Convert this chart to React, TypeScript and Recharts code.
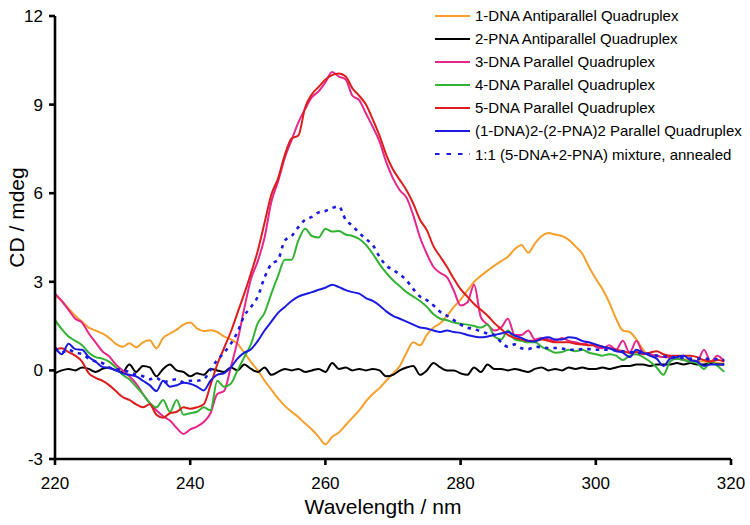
import React from 'react';
import { LineChart, Line, XAxis, YAxis, Label } from 'recharts';

// Wavelength categories 220..319 nm (1 nm steps)
const wavelength: number[] = Array.from({ length: 100 }, (_, i) => 220 + i);

const dna1Antiparallel = [
  2.55, 2.35, 2.1, 1.85, 1.65, 1.45, 1.35, 1.25, 1.1, 0.9,
  0.8, 0.92, 0.78, 0.95, 1.02, 0.75, 1.1, 1.25, 1.38, 1.55,
  1.62, 1.42, 1.33, 1.36, 1.3, 1.15, 1.05, 0.9, 0.6, 0.28,
  0.0, -0.35, -0.65, -0.95, -1.2, -1.4, -1.58, -1.8, -2.0, -2.25,
  -2.5, -2.25, -2.1, -1.85, -1.6, -1.35, -1.05, -0.8, -0.6, -0.35,
  -0.1, 0.15, 0.6, 0.95, 0.85, 1.2, 1.45, 1.6, 1.85, 2.15,
  2.4, 2.7, 3.0, 3.2, 3.38, 3.55, 3.7, 3.85, 4.1, 4.25,
  3.98, 4.3, 4.55, 4.65, 4.6, 4.55, 4.42, 4.2, 3.95, 3.5,
  3.1, 2.75, 2.3, 1.75, 1.35, 1.3, 1.05, 0.7, 0.5, 0.48,
  0.45, 0.42, 0.4, 0.38, 0.35, 0.32, 0.3, 0.28, 0.25, 0.22,
];

const pna2Antiparallel = [
  -0.1, 0.0, 0.05, 0.0, 0.1, 0.05, -0.05, 0.05, 0.1, 0.0,
  -0.05, 0.2, -0.05, 0.15, 0.1, -0.2, 0.05, 0.2, 0.0, -0.05,
  -0.2, -0.1, -0.15, 0.05, 0.0, -0.05, 0.1, 0.0, 0.2, 0.05,
  -0.05, 0.1, -0.15, -0.05, 0.05, 0.0, 0.05, -0.05, 0.0, 0.05,
  -0.05, 0.25, 0.05, 0.1, 0.0, 0.05, 0.0, 0.05, 0.0, -0.2,
  -0.15, 0.0, 0.1, 0.15, -0.15, 0.0, 0.25, 0.1, 0.0, 0.0,
  -0.1, -0.15, 0.1, -0.05, 0.2, 0.05, 0.05, 0.0, 0.05, 0.0,
  -0.05, 0.05, 0.1, 0.0, 0.05, 0.0, 0.1, 0.05, 0.1, 0.05,
  0.05, 0.1, 0.05, 0.1, 0.15, 0.15, 0.2, 0.2, 0.15, 0.2,
  0.2, 0.2, 0.25, 0.2, 0.25, 0.2, 0.2, 0.25, 0.2, 0.2,
];

const dna3Parallel = [
  2.6, 2.35, 2.05, 1.75, 1.62, 1.25, 0.95, 0.65, 0.48, 0.2,
  0.0, -0.2, -0.45, -0.8, -1.1, -1.35, -1.55, -1.7, -1.95, -2.15,
  -2.0, -1.9, -1.75, -1.45, -0.8, -0.7, 0.1, 1.0, 2.1, 3.1,
  3.7, 4.5, 5.7, 6.4, 7.2, 7.8, 8.4, 8.85, 9.25, 9.45,
  9.75, 10.1, 9.95, 9.85, 9.3, 9.15, 8.7, 8.25, 7.75, 7.05,
  6.5, 6.1, 5.85, 5.25, 4.5, 3.95, 3.5, 3.3, 3.15, 2.7,
  2.2, 2.3, 2.9, 1.8, 1.55, 1.35, 1.45, 1.75, 1.2, 1.2,
  1.35, 1.05, 1.1, 1.05, 1.0, 1.1, 1.0, 0.95, 0.9, 0.95,
  0.8, 0.75, 0.85, 0.7, 1.0, 0.6, 1.0, 0.6, 0.55, 0.5,
  0.45, 0.45, 0.4, 0.35, 0.3, 0.3, 0.7, 0.3, 0.5, 0.3,
];

const dna4Parallel = [
  1.7, 1.4, 1.15, 1.0, 0.85, 0.6, 0.45, 0.4, 0.3, 0.1,
  -0.15, -0.3, -0.55, -0.8, -1.1, -1.25, -1.0, -1.4, -1.0, -1.5,
  -1.45, -1.4, -1.25, -1.35, -0.35, -0.55, -0.45, 0.0, 0.45, 0.9,
  1.6, 1.95, 2.6, 3.2, 3.75, 3.75, 4.4, 4.8, 4.55, 4.5,
  4.8, 4.7, 4.72, 4.6, 4.55, 4.45, 4.25, 3.95, 3.6, 3.3,
  3.05, 2.85, 2.65, 2.5, 2.35, 2.15, 1.9, 1.75, 1.7, 1.62,
  1.58, 1.55, 1.5, 1.45, 1.55, 1.15, 1.05, 1.35, 1.05, 1.0,
  0.95, 0.95, 0.8, 0.7, 0.6, 0.62, 0.7, 0.65, 0.7, 0.6,
  0.55, 0.5, 0.55, 0.5, 0.35, 0.5, 0.55, 0.45, 0.3, 0.1,
  -0.15, 0.3, 0.4, 0.35, 0.3, 0.25, 0.05, 0.3, 0.15, -0.05,
];

const dna5Parallel = [
  0.7, 0.75, 0.62, 0.5, 0.3, -0.1, -0.25, -0.35, -0.5, -0.7,
  -0.9, -1.0, -1.15, -1.25, -1.15, -1.5, -1.6, -1.45, -1.4, -1.25,
  -1.3, -1.25, -1.15, -0.5, 0.2, 0.75, 1.3, 1.95, 2.6, 3.3,
  4.05, 5.0, 5.95, 6.5, 7.3, 7.85, 7.95, 8.9, 9.35, 9.6,
  9.85, 10.0, 10.05, 9.95, 9.55, 9.3, 9.0, 8.5, 7.95, 7.3,
  6.8, 6.45, 6.1, 5.65, 5.1, 4.75, 4.2, 3.85, 3.5, 3.1,
  2.75, 2.5, 2.25, 2.05, 1.85, 1.6, 1.4, 1.2, 1.1, 1.05,
  1.0, 1.0, 1.05, 1.0, 0.95, 0.95, 0.95, 0.9, 0.88, 0.85,
  0.85, 0.8, 0.75, 0.7, 0.65, 0.6, 0.62, 0.55, 0.6, 0.65,
  0.55, 0.5, 0.5, 0.5, 0.5, 0.45, 0.35, 0.3, 0.35, 0.3,
];

const dnaPnaParallel = [
  0.8, 0.55, 0.9, 0.72, 0.7, 0.45, 0.3, 0.12, 0.08, 0.0,
  -0.1, -0.15, -0.2, -0.35, -0.5, -0.7, -0.35, -0.55, -0.5, -0.42,
  -0.45, -0.55, -0.68, -0.35, -0.15, -0.1, 0.1, 0.4, 0.6, 0.72,
  1.0, 1.35, 1.65, 1.95, 2.15, 2.35, 2.5, 2.58, 2.65, 2.73,
  2.8, 2.9, 2.82, 2.72, 2.65, 2.6, 2.45, 2.35, 2.2, 2.0,
  1.85, 1.75, 1.65, 1.55, 1.45, 1.42, 1.35, 1.3, 1.35, 1.3,
  1.27, 1.2, 1.15, 1.12, 1.15, 1.2, 1.25, 1.3, 1.18, 1.1,
  1.0, 0.98, 1.08, 1.12, 1.05, 1.05, 1.12, 1.1, 1.0, 0.95,
  0.88, 0.8, 0.75, 0.65, 0.6, 0.45, 0.7, 0.6, 0.5, 0.4,
  0.15, 0.4, 0.45, 0.5, 0.35, 0.3, 0.15, 0.2, 0.2, 0.2,
];

const mixtureAnnealed = [
  0.75, 0.6, 0.7, 0.6, 0.55, 0.4, 0.3, 0.25, 0.1, 0.05,
  0.0, -0.05, -0.15, -0.2, -0.3, -0.25, -0.4, -0.35, -0.3, -0.4,
  -0.35, -0.35, -0.3, 0.02, 0.35, 0.6, 0.9, 1.3, 1.85, 2.15,
  2.5, 3.15, 3.6, 3.75, 4.4, 4.55, 4.85, 5.1, 5.2, 5.35,
  5.4, 5.5, 5.55, 5.1, 4.9, 4.65, 4.45, 4.25, 3.85, 3.55,
  3.4, 3.25, 3.05, 2.75, 2.5, 2.38, 2.2, 1.98, 1.85, 1.7,
  1.55, 1.45, 1.4, 1.32, 1.25, 1.2, 0.95, 0.8, 0.88, 0.75,
  0.72, 0.8, 0.78, 0.76, 0.76, 0.74, 0.7, 0.7, 0.72, 0.72,
  0.7, 0.7, 0.7, 0.68, 0.65, 0.62, 0.6, 0.58, 0.55, 0.5,
  0.48, 0.45, 0.45, 0.42, 0.4, 0.4, 0.4, 0.38, 0.38, 0.35,
];

const xTicks = [220, 240, 260, 280, 300, 320];
const yTicks = [-3, 0, 3, 6, 9, 12];

const seriesNames = [
  '1-DNA Antiparallel Quadruplex',
  '2-PNA Antiparallel Quadruplex',
  '3-DNA Parallel Quadruplex',
  '4-DNA Parallel Quadruplex',
  '5-DNA Parallel Quadruplex',
  '(1-DNA)2-(2-PNA)2 Parallel Quadruplex',
  '1:1 (5-DNA+2-PNA) mixture, annealed',
];

const series = [
  { key: 's1', name: seriesNames[0], color: '#F5A02C', values: dna1Antiparallel, dash: '' },
  { key: 's2', name: seriesNames[1], color: '#000000', values: pna2Antiparallel, dash: '' },
  { key: 's3', name: seriesNames[2], color: '#E5268A', values: dna3Parallel, dash: '' },
  { key: 's4', name: seriesNames[3], color: '#33B233', values: dna4Parallel, dash: '' },
  { key: 's5', name: seriesNames[4], color: '#DD1C1C', values: dna5Parallel, dash: '' },
  { key: 's6', name: seriesNames[5], color: '#1A1AE0', values: dnaPnaParallel, dash: '' },
  { key: 's7', name: seriesNames[6], color: '#1A1AE0', values: mixtureAnnealed, dash: '3.5 5' },
];

const data = wavelength.map((w, i) => {
  const row: Record<string, number> = { wl: w };
  series.forEach((s) => {
    row[s.key] = s.values[i];
  });
  return row;
});

const FONT = '"Liberation Sans", Arial, Helvetica, sans-serif';

const YTitle = (props: any) => {
  const vb = props.viewBox || {};
  const cx = 16;
  const cy = (vb.y || 0) + (vb.height || 0) / 2 - 20;
  return (
    <text
      x={cx}
      y={cy}
      transform={`rotate(-90 ${cx} ${cy})`}
      textAnchor="middle"
      dominantBaseline="central"
      fontSize={21}
      fontFamily={FONT}
      fill="#000"
    >
      CD / mdeg
    </text>
  );
};

const XTitle = (props: any) => {
  const vb = props.viewBox || {};
  const cx = (vb.x || 0) + (vb.width || 0) / 2 - 10;
  return (
    <text
      x={cx}
      y={514}
      textAnchor="middle"
      fontSize={21}
      fontFamily={FONT}
      fill="#000"
    >
      Wavelength / nm
    </text>
  );
};

const LegendBox = () => (
  <div
    style={{
      position: 'absolute',
      left: 435,
      top: 4,
      fontFamily: FONT,
      fontSize: 15,
      color: '#000',
      lineHeight: '23.1px',
    }}
  >
    {series.map((s) => (
      <div key={s.key} style={{ display: 'flex', alignItems: 'center', height: 23.1, whiteSpace: 'nowrap' }}>
        <svg width={40} height={10} style={{ display: 'block' }}>
          <line
            x1={0}
            x2={35}
            y1={5}
            y2={5}
            stroke={s.color}
            strokeWidth={2.2}
            strokeDasharray={s.dash ? '4.5 7' : undefined}
          />
        </svg>
        <span>{s.name}</span>
      </div>
    ))}
  </div>
);

export default function App() {
  return (
    <div style={{ position: 'absolute', left: 0, top: 0, width: 750, height: 525, background: '#fff' }}>
      <LineChart
        width={750}
        height={525}
        data={data}
        margin={{ top: 16, right: 19, bottom: 10, left: 0 }}
      >
        <XAxis
          dataKey="wl"
          type="number"
          domain={[220, 320]}
          ticks={xTicks}
          allowDataOverflow
          height={56}
          stroke="#000"
          strokeWidth={2.6}
          tickSize={6}
          tickMargin={12}
          tick={{ fill: '#000', fontSize: 17, fontFamily: FONT }}
          tickLine={{ stroke: '#000', strokeWidth: 2.6 }}
        >
          <Label content={XTitle} />
        </XAxis>
        <YAxis
          type="number"
          domain={[-3, 12]}
          ticks={yTicks}
          allowDataOverflow
          width={55}
          stroke="#000"
          strokeWidth={2.6}
          tickSize={6}
          tickMargin={6}
          tick={{ fill: '#000', fontSize: 17, fontFamily: FONT }}
          tickLine={{ stroke: '#000', strokeWidth: 2.6 }}
        >
          <Label content={YTitle} />
        </YAxis>
        {series.map((s) => (
          <Line
            key={s.key}
            dataKey={s.key}
            name={s.name}
            type="monotone"
            stroke={s.color}
            strokeWidth={s.dash ? 2.6 : 2}
            strokeDasharray={s.dash || undefined}
            dot={false}
            activeDot={false}
            isAnimationActive={false}
          />
        ))}
      </LineChart>
      <LegendBox />
    </div>
  );
}
